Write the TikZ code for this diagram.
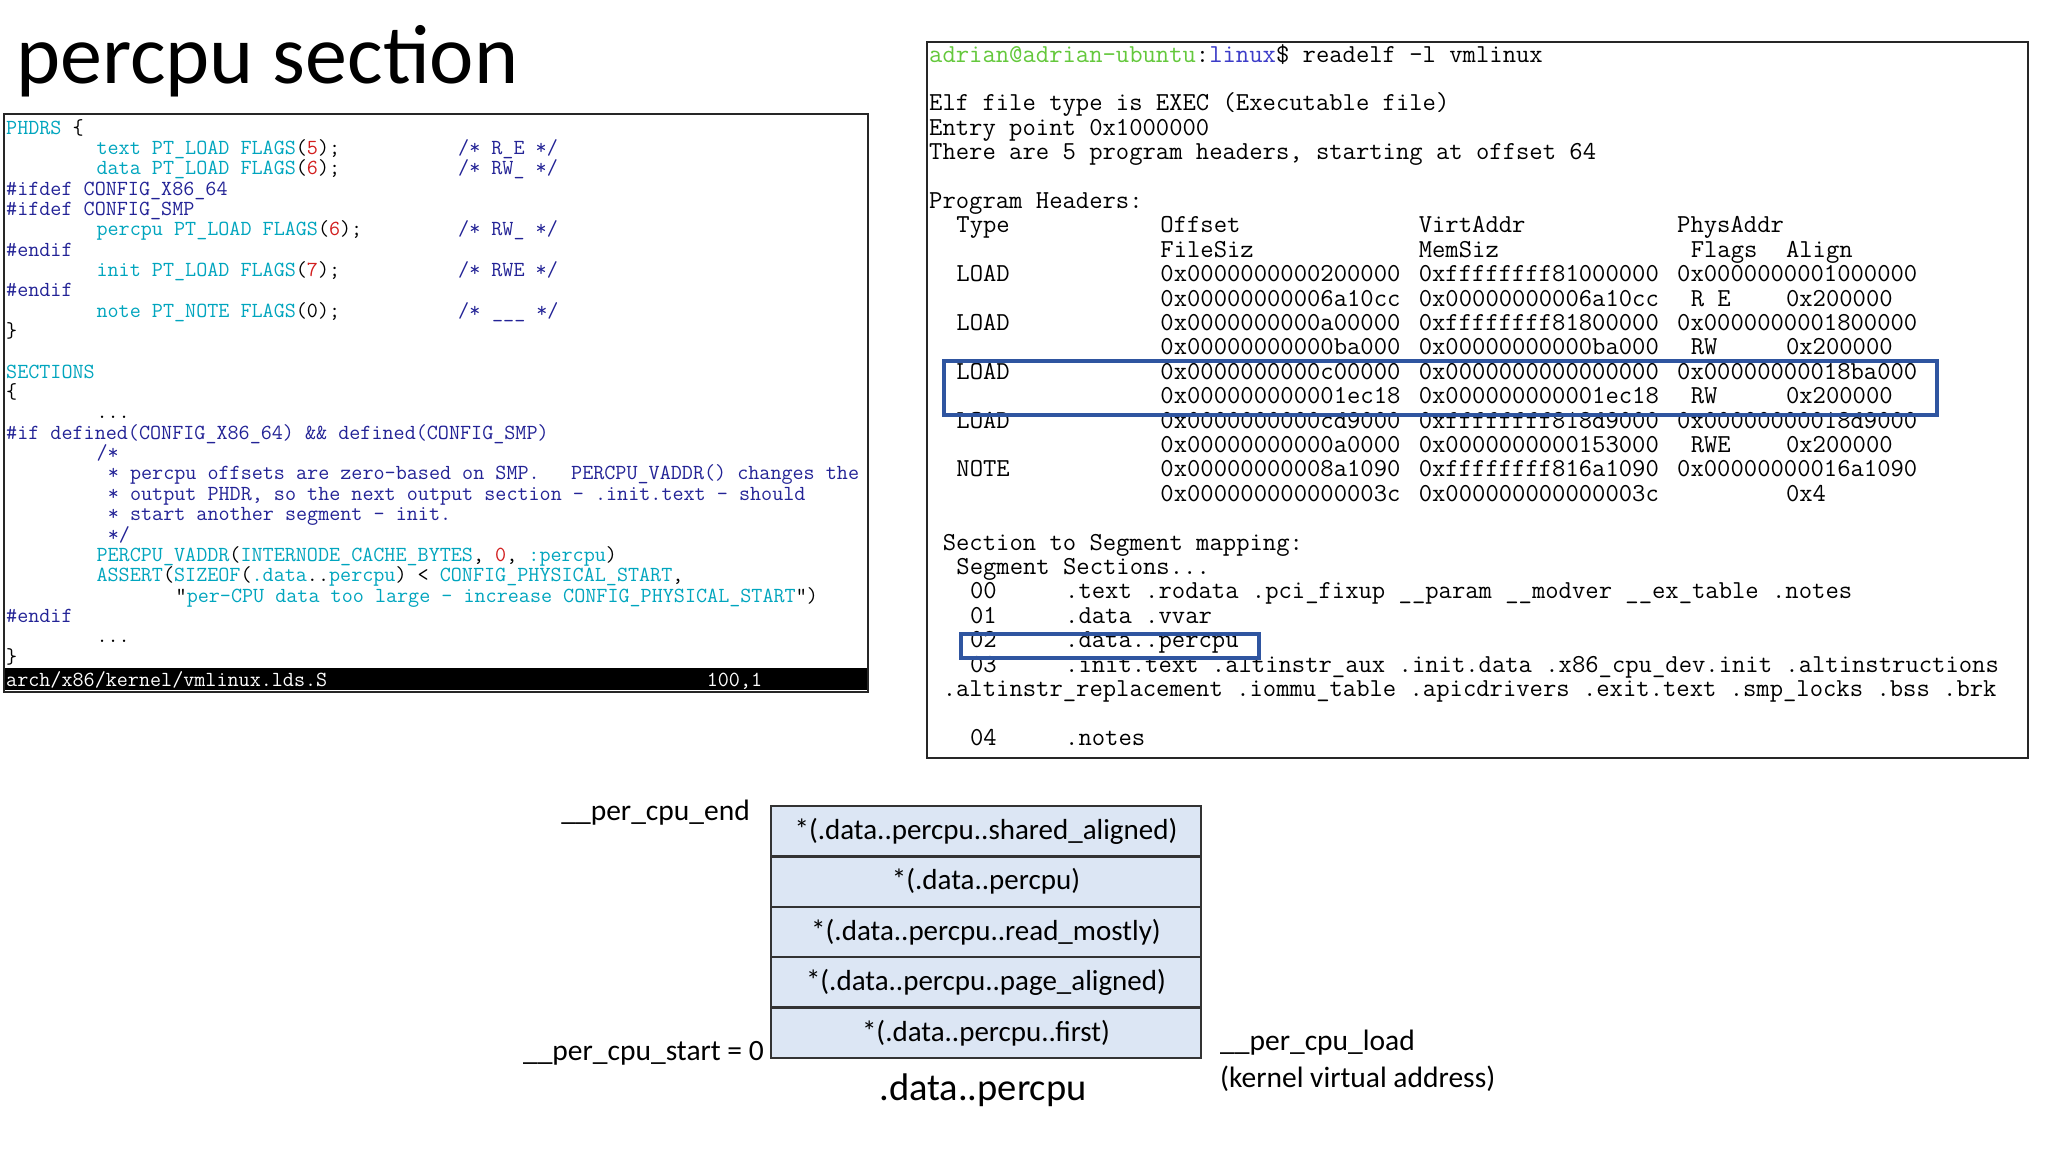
\documentclass[tikz,border=0pt]{standalone}
\usepackage{fontspec}
\setmainfont{Carlito}
\definecolor{cy}{RGB}{0,165,190}
\definecolor{nv}{RGB}{35,35,150}
\definecolor{rd}{RGB}{210,30,30}
\definecolor{pg}{RGB}{100,200,60}
\definecolor{pb}{RGB}{60,60,200}
\definecolor{hb}{RGB}{47,85,160}
\definecolor{boxfill}{RGB}{220,230,244}
\tikzset{
  ctext/.style={anchor=base west,inner sep=0,font=\ttfamily\fontsize{21.5}{22}\selectfont},
  rtext/.style={anchor=base west,inner sep=0,font=\ttfamily\fontsize{25.9}{26}\selectfont},
  cell/.style={draw=black!80,line width=2.5pt,fill=boxfill,minimum width=430pt,minimum height=50.4pt,inner sep=0,font=\fontsize{29}{31}\selectfont},
  lab/.style={inner sep=0,font=\fontsize{29.5}{31}\selectfont},
  hbox/.style={draw=hb,line width=3.5pt}
}
\newcommand\cl[3]{\node[ctext] at ({6+#2*11.3},{134+#1*20.35}) {#3};}
\newcommand\rl[3]{\node[rtext] at ({929+#2*13.6},{62+#1*24.4}) {#3};}
\begin{document}
\begin{tikzpicture}[x=1pt,y=-1pt]
\useasboundingbox (0,0) rectangle (2048,1152);
\fill[white] (0,0) rectangle (2048,1152);
\node[anchor=base west,inner sep=0,font=\fontsize{84}{88}\selectfont] (title) at (16,83) {percpu section};

% code panel
\draw[line width=2pt,black!85] (4,114) rectangle (868,692);
\fill[black] (5,668) rectangle (867,690);
\cl{0}{0}{\textcolor{cy}{PHDRS} \{}
\cl{1}{8}{\textcolor{cy}{text PT\_LOAD FLAGS}(\textcolor{rd}{5});}
\cl{1}{40}{\textcolor{nv}{/* R\_E */}}
\cl{2}{8}{\textcolor{cy}{data PT\_LOAD FLAGS}(\textcolor{rd}{6});}
\cl{2}{40}{\textcolor{nv}{/* RW\_ */}}
\cl{3}{0}{\textcolor{nv}{\#ifdef CONFIG\_X86\_64}}
\cl{4}{0}{\textcolor{nv}{\#ifdef CONFIG\_SMP}}
\cl{5}{8}{\textcolor{cy}{percpu PT\_LOAD FLAGS}(\textcolor{rd}{6});}
\cl{5}{40}{\textcolor{nv}{/* RW\_ */}}
\cl{6}{0}{\textcolor{nv}{\#endif}}
\cl{7}{8}{\textcolor{cy}{init PT\_LOAD FLAGS}(\textcolor{rd}{7});}
\cl{7}{40}{\textcolor{nv}{/* RWE */}}
\cl{8}{0}{\textcolor{nv}{\#endif}}
\cl{9}{8}{\textcolor{cy}{note PT\_NOTE FLAGS}(0);}
\cl{9}{40}{\textcolor{nv}{/*}}
\cl{9}{43}{\textcolor{nv}{\_\_\_ */}}
\cl{10}{0}{\}}
\cl{12}{0}{\textcolor{cy}{SECTIONS}}
\cl{13}{0}{\{}
\cl{14}{8}{...}
\cl{15}{0}{\textcolor{nv}{\#if defined(CONFIG\_X86\_64) \&\& defined(CONFIG\_SMP)}}
\cl{16}{8}{\textcolor{nv}{/*}}
\cl{17}{9}{\textcolor{nv}{* percpu offsets are zero-based on SMP.}}
\cl{17}{50}{\textcolor{nv}{PERCPU\_VADDR() changes the}}
\cl{18}{9}{\textcolor{nv}{* output PHDR, so the next output section - .init.text - should}}
\cl{19}{9}{\textcolor{nv}{* start another segment - init.}}
\cl{20}{9}{\textcolor{nv}{*/}}
\cl{21}{8}{\textcolor{cy}{PERCPU\_VADDR}(\textcolor{cy}{INTERNODE\_CACHE\_BYTES}, \textcolor{rd}{0}, \textcolor{cy}{:percpu})}
\cl{22}{8}{\textcolor{cy}{ASSERT}(\textcolor{cy}{SIZEOF}(\textcolor{cy}{.data}..\textcolor{cy}{percpu}) < \textcolor{cy}{CONFIG\_PHYSICAL\_START},}
\cl{23}{15}{"\textcolor{cy}{per-CPU data too large - increase CONFIG\_PHYSICAL\_START}")}
\cl{24}{0}{\textcolor{nv}{\#endif}}
\cl{25}{8}{...}
\cl{26}{0}{\}}
\node[ctext,text=white] (stl) at (6,686) {arch/x86/kernel/vmlinux.lds.S};
\node[ctext,text=white] (str) at ({6+62*11.3},686) {100,1};

% readelf panel
\draw[line width=1.5pt,black!85] (927,42) rectangle (2028,758);
\rl{0}{0}{\textcolor{pg}{adrian@adrian-ubuntu}:\textcolor{pb}{linux}\$ readelf -l vmlinux}
\rl{2}{0}{Elf file type is EXEC (Executable file)}
\rl{3}{0}{Entry point 0x1000000}
\rl{4}{0}{There are 5 program headers, starting at offset 64}
\rl{6}{0}{Program Headers:}
\rl{7}{2}{Type}\rl{7}{17}{Offset}\rl{7}{36}{VirtAddr}\rl{7}{55}{PhysAddr}
\rl{8}{17}{FileSiz}\rl{8}{36}{MemSiz}\rl{8}{56}{Flags}\rl{8}{63}{Align}
\rl{9}{2}{LOAD}\rl{9}{17}{0x0000000000200000}\rl{9}{36}{0xffffffff81000000}\rl{9}{55}{0x0000000001000000}
\rl{10}{17}{0x00000000006a10cc}\rl{10}{36}{0x00000000006a10cc}\rl{10}{56}{R E}\rl{10}{63}{0x200000}
\rl{11}{2}{LOAD}\rl{11}{17}{0x0000000000a00000}\rl{11}{36}{0xffffffff81800000}\rl{11}{55}{0x0000000001800000}
\rl{12}{17}{0x00000000000ba000}\rl{12}{36}{0x00000000000ba000}\rl{12}{56}{RW}\rl{12}{63}{0x200000}
\rl{13}{2}{LOAD}\rl{13}{17}{0x0000000000c00000}\rl{13}{36}{0x0000000000000000}\rl{13}{55}{0x00000000018ba000}
\rl{14}{17}{0x000000000001ec18}\rl{14}{36}{0x000000000001ec18}\rl{14}{56}{RW}\rl{14}{63}{0x200000}
\rl{15}{2}{LOAD}\rl{15}{17}{0x0000000000cd9000}\rl{15}{36}{0xffffffff818d9000}\rl{15}{55}{0x00000000018d9000}
\rl{16}{17}{0x00000000000a0000}\rl{16}{36}{0x0000000000153000}\rl{16}{56}{RWE}\rl{16}{63}{0x200000}
\rl{17}{2}{NOTE}\rl{17}{17}{0x00000000008a1090}\rl{17}{36}{0xffffffff816a1090}\rl{17}{55}{0x00000000016a1090}
\rl{18}{17}{0x000000000000003c}\rl{18}{36}{0x000000000000003c}\rl{18}{63}{0x4}
\rl{20}{1}{Section to Segment mapping:}
\rl{21}{2}{Segment Sections...}
\rl{22}{3}{00}\rl{22}{10}{.text .rodata .pci\_fixup \_\_param \_\_modver \_\_ex\_table .notes}
\rl{23}{3}{01}\rl{23}{10}{.data .vvar}
\rl{24}{3}{02}\rl{24}{10}{.data..percpu}
\rl{25}{3}{03}\rl{25}{10}{.init.text .altinstr\_aux .init.data .x86\_cpu\_dev.init .altinstructions}
\rl{26}{1}{.altinstr\_replacement .iommu\_table .apicdrivers .exit.text .smp\_locks .bss .brk}
\rl{28}{3}{04}\rl{28}{10}{.notes}
\draw[hbox] (944,361) rectangle (1937,415);
\draw[hbox] (961,634) rectangle (1259,658);

% bottom diagram
\node[cell] (r1) at (986,831.2) {*(.data..percpu..shared\_aligned)};
\node[cell] (r2) at (986,881.6) {*(.data..percpu)};
\node[cell] (r3) at (986,932.0) {*(.data..percpu..read\_mostly)};
\node[cell] (r4) at (986,982.4) {*(.data..percpu..page\_aligned)};
\node[cell] (r5) at (986,1032.8) {*(.data..percpu..first)};
\node[lab,anchor=base east] (pend) at (750,820) {\_\_per\_cpu\_end};
\node[lab,anchor=base east] (pstart) at (764,1060) {\_\_per\_cpu\_start = 0};
\node[lab,anchor=base west] (pload) at (1220,1050) {\_\_per\_cpu\_load};
\node[lab,anchor=base west] (kva) at (1220,1087) {(kernel virtual address)};
\node[inner sep=0,anchor=base,font=\fontsize{38.5}{40}\selectfont] (dp) at (983,1100) {.data..percpu};
\end{tikzpicture}
\end{document}
